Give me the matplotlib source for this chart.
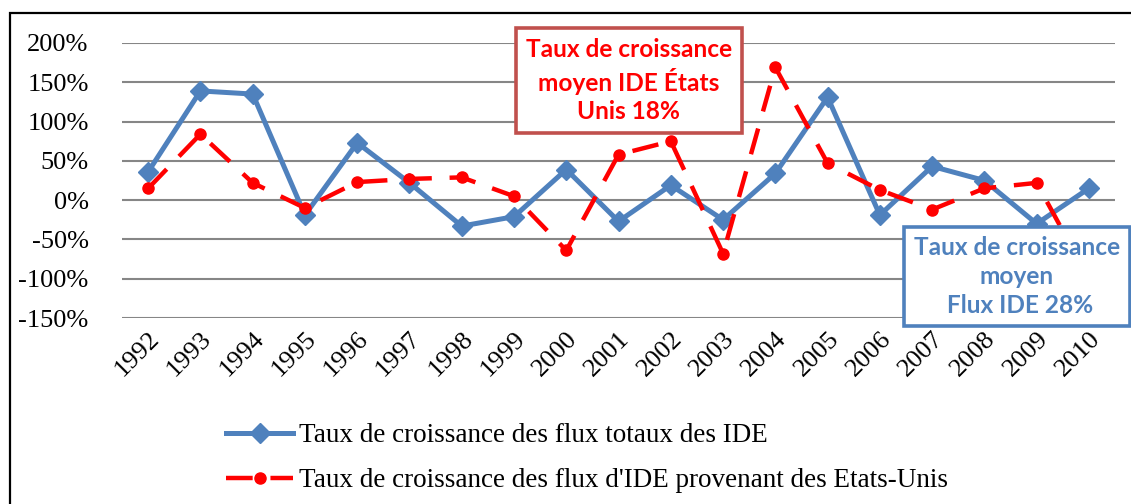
import matplotlib
matplotlib.use("Agg")
import matplotlib.pyplot as plt
from matplotlib.patches import Rectangle
from matplotlib.ticker import FuncFormatter, MultipleLocator

plt.rcParams['axes.unicode_minus'] = False

years = [str(y) for y in range(1992, 2011)]
# growth rates in %
total_fdi = [36, 139, 135, -19, 73, 22, -33, -21, 39, -27, 19, -25,
             34, 131, -19, 43, 25, -30, 15]
us_fdi = [15, 84, 22, -10, 23, 27, 29, 5, -64, 58, 75, -68,
          169, 47, 13, -12, 15, 22, -100]

label_total = "Taux de croissance des flux totaux des IDE"
label_us = "Taux de croissance des flux d'IDE provenant des Etats-Unis"
note_us = "Taux de croissance\nmoyen IDE États\nUnis 18%"
note_total = "Taux de croissance\nmoyen\n Flux IDE 28%"

blue = '#4F81BD'
red = '#FF0000'
serif = 'Liberation Serif'

fig = plt.figure(figsize=(11.31, 5.04), dpi=100)
ax = fig.add_axes([0.1079, 0.369, 0.878, 0.5457])

x = range(len(years))
ax.plot(x, total_fdi, color=blue, lw=3.6, marker='D', ms=10,
        label=label_total, zorder=3)
ax.plot(x, us_fdi, color=red, lw=3.2, ls=(0, (6, 4)), marker='o', ms=8,
        label=label_us, zorder=4)

ax.set_xlim(-0.5, len(years) - 0.5)
ax.set_ylim(-150, 200)
ax.yaxis.set_major_locator(MultipleLocator(50))
ax.yaxis.set_major_formatter(FuncFormatter(lambda v, p: f'{v:.0f}%'))
ax.grid(axis='y', color='#868686', lw=1.5, zorder=1)
ax.set_axisbelow(True)
for s in ax.spines.values():
    s.set_visible(False)
ax.set_xticks(list(x))
ax.set_xticklabels(years, rotation=45, ha='right', rotation_mode='anchor')
ax.tick_params(axis='both', length=0, labelsize=19, labelfontfamily=serif)
ax.tick_params(axis='y', pad=24)
ax.tick_params(axis='x', pad=7)

# annotation boxes
box_font = dict(fontsize=17.6, fontweight='bold', family='Lato',
                linespacing=1.3, ha='center', va='center', zorder=10)
ax.text(0.556, 0.840, note_us, transform=fig.transFigure, color=red,
        bbox=dict(boxstyle='square,pad=0.4', fc='white', ec='#C0504D', lw=2.6),
        **box_font)
ax.text(0.899, 0.4514, note_total, transform=fig.transFigure, color=blue,
        bbox=dict(boxstyle='square,pad=0.4', fc='white', ec=blue, lw=2.6),
        **box_font)

fig.legend(loc='upper left', bbox_to_anchor=(0.178, 0.209), frameon=False,
           prop={'family': serif, 'size': 19.5}, handlelength=2.5,
           handletextpad=0.2, labelspacing=0.75)

fig.patches.append(Rectangle((10 / 1131, -0.05), 1.1, 0.05 + 1 - 13 / 504,
                             transform=fig.transFigure, fill=False,
                             ec='black', lw=1.6))

fig.savefig('out.png', dpi=100)
